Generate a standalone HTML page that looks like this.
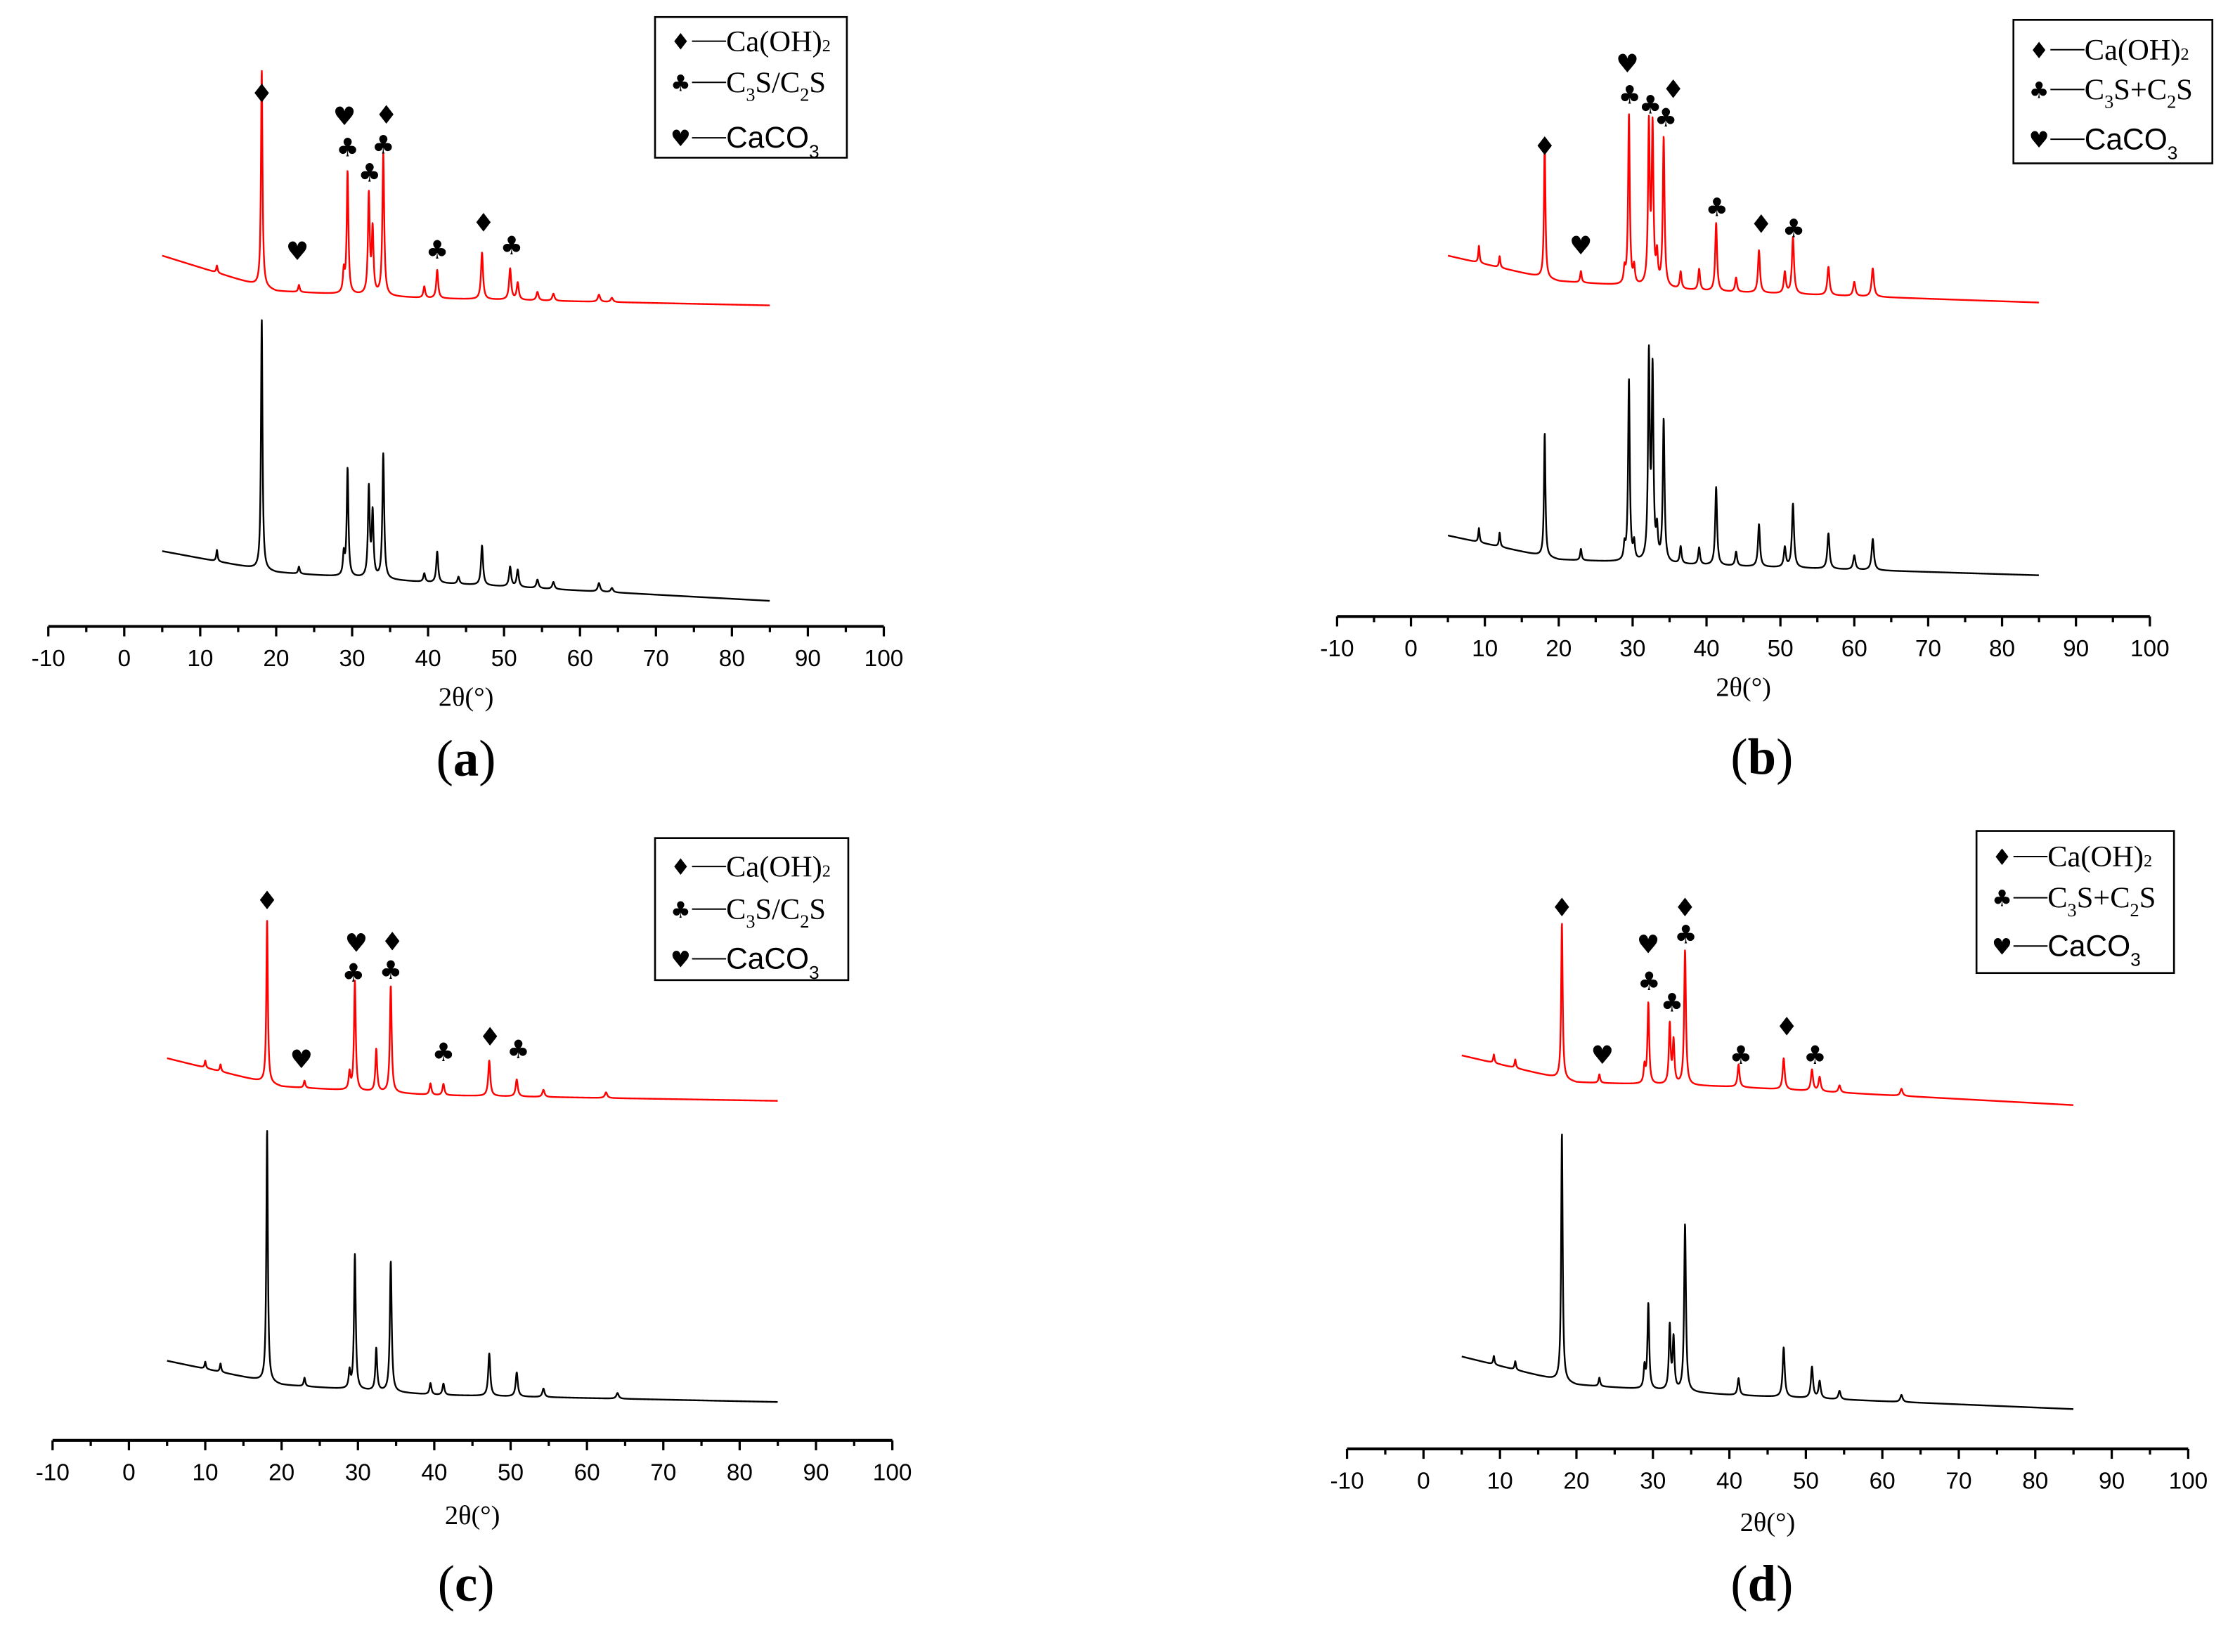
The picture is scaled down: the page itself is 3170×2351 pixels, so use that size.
<!DOCTYPE html>
<html><head><meta charset="utf-8"><style>
html,body{margin:0;padding:0;background:#fff;}
svg{display:block;}
</style></head><body>
<svg id="fig" width="3170" height="2351" viewBox="0 0 1568 1163" preserveAspectRatio="none" xmlns="http://www.w3.org/2000/svg"></svg>
<script>
// ---- data (angles in degrees 2θ, intensities in relative units) ----
const panelIds = ['a','b','c','d'];
const baseAngles = [5, 20, 40, 85];
const redBaseA = [261, 236, 231, 226];
const blackBaseA = [53, 38, 31, 18];
const redBaseB = [254, 236, 229, 221];
const blackBaseB = [57, 40, 36, 29];
const redBaseC = [269, 249, 243, 239];
const blackBaseC = [56, 39, 32, 27];
const redBaseD = [277, 258, 255, 242];
const blackBaseD = [65, 45, 38, 28];
const redPosA = [12.2, 18.1, 23, 28.9, 29.4, 32.2, 32.7, 34.1, 39.5, 41.2, 47.1, 50.8, 51.8, 54.4, 56.5, 62.5, 64.2];
const redHtA  = [5, 153, 5, 15, 86, 70, 45, 100, 8, 20, 33, 22, 12, 6, 5, 5, 3];
const blackPosA = [12.2, 18.1, 23, 28.9, 29.4, 32.2, 32.7, 34.1, 39.5, 41.2, 44, 47.1, 50.8, 51.8, 54.4, 56.5, 62.5, 64.2];
const blackHtA  = [8, 177, 5, 15, 76, 63, 45, 88, 6, 22, 5, 28, 14, 12, 6, 5, 6, 3];
const redPosB = [9.2, 12, 18.1, 23, 28.9, 29.5, 30.2, 32.2, 32.7, 33.3, 34.2, 36.5, 39, 41.3, 44, 47.1, 50.6, 51.7, 56.5, 60, 62.5];
const redHtB  = [12, 8, 96, 8, 10, 120, 12, 112, 110, 20, 105, 12, 15, 48, 10, 30, 15, 40, 20, 10, 20];
const blackPosB = [9.2, 12, 18.1, 23, 28.9, 29.5, 30.2, 32.2, 32.7, 33.3, 34.2, 36.5, 39, 41.3, 44, 47.1, 50.6, 51.7, 56.5, 60, 62.5];
const blackHtB  = [10, 10, 87, 8, 10, 128, 12, 143, 132, 20, 100, 12, 12, 55, 10, 30, 14, 45, 25, 10, 22];
const redPosC = [10, 12, 18.1, 23, 28.9, 29.6, 32.4, 34.3, 39.5, 41.2, 47.2, 50.8, 54.3, 62.5];
const redHtC  = [5, 5, 115, 5, 12, 77, 30, 75, 8, 8, 25, 12, 5, 4];
const blackPosC = [10, 12, 18.1, 23, 28.9, 29.6, 32.4, 34.3, 39.5, 41.2, 47.2, 50.8, 54.3, 64];
const blackHtC  = [5, 6, 178, 6, 12, 95, 30, 92, 8, 8, 30, 17, 6, 4];
const redPosD = [9.2, 12, 18.1, 23, 28.9, 29.4, 32.2, 32.7, 34.2, 41.2, 47.1, 50.8, 51.8, 54.4, 62.5];
const redHtD  = [6, 6, 110, 6, 12, 57, 42, 30, 95, 16, 22, 15, 10, 5, 5];
const blackPosD = [9.2, 12, 18.1, 23, 28.9, 29.4, 32.2, 32.7, 34.2, 41.2, 47.1, 50.8, 51.8, 54.4, 62.5];
const blackHtD  = [6, 6, 175, 6, 15, 60, 45, 36, 118, 12, 35, 22, 12, 6, 5];
const markAngA = [18.1, 22.8, 29.0, 29.4, 34.5, 34.1, 32.3, 41.2, 47.3, 51.0];
const markSymA = ['♦','♥','♥','♣','♦','♣','♣','♣','♦','♣'];
const markValA = [376, 265, 360, 338, 361, 340, 320, 266, 285, 269];
const markAngB = [18.1, 23.0, 29.3, 29.6, 32.4, 35.5, 34.5, 41.4, 47.4, 51.8];
const markSymB = ['♦','♥','♥','♣','♣','♦','♣','♣','♦','♣'];
const markValB = [332, 262, 390, 368, 361, 372, 352, 289, 277, 274];
const markAngC = [18.1, 22.6, 29.8, 29.4, 34.5, 34.3, 41.2, 47.3, 51.0];
const markSymC = ['♦','♥','♥','♣','♦','♣','♣','♦','♣'];
const markValC = [381, 269, 351, 330, 352, 332, 274, 285, 276];
const markAngD = [18.1, 23.4, 29.4, 29.5, 34.2, 34.3, 32.5, 41.5, 47.5, 51.2];
const markSymD = ['♦','♥','♥','♣','♦','♣','♣','♣','♦','♣'];
const markValD = [382, 278, 356, 330, 382, 363, 315, 278, 298, 278];
const xTicks = [-10, 0, 10, 20, 30, 40, 50, 60, 70, 80, 90, 100];

const panels = [
 {id:'a', x0:34, x1:622, ay:441, labY:497, capY:546, capX:328, leg:[461,12,135,99], legRows:[29,58,97], sep:'/',
  rb:redBaseA, bb:blackBaseA, rp:redPosA, rh:redHtA, bp:blackPosA, bh:blackHtA, ma:markAngA, ms:markSymA, mv:markValA},
 {id:'b', x0:941, x1:1513, ay:434, labY:490, capY:545, capX:1240, leg:[1417,14,140,101], legRows:[35,63,98], sep:'+',
  rb:redBaseB, bb:blackBaseB, rp:redPosB, rh:redHtB, bp:blackPosB, bh:blackHtB, ma:markAngB, ms:markSymB, mv:markValB},
 {id:'c', x0:37, x1:628, ay:1014, labY:1073, capY:1127, capX:328, leg:[461,590,136,100], legRows:[610,640,675], sep:'/',
  rb:redBaseC, bb:blackBaseC, rp:redPosC, rh:redHtC, bp:blackPosC, bh:blackHtC, ma:markAngC, ms:markSymC, mv:markValC},
 {id:'d', x0:948, x1:1540, ay:1020, labY:1078, capY:1127, capX:1240, leg:[1391,585,139,100], legRows:[603,632,666], sep:'+',
  rb:redBaseD, bb:blackBaseD, rp:redPosD, rh:redHtD, bp:blackPosD, bh:blackHtD, ma:markAngD, ms:markSymD, mv:markValD}
];
const NS='http://www.w3.org/2000/svg';
const svg=document.getElementById('fig');
function mk(tag, attrs, parent){const e=document.createElementNS(NS,tag);for(const k in attrs)e.setAttribute(k,attrs[k]);(parent||svg).appendChild(e);return e;}
function interp(xs, ys, x){
  if(x<=xs[0])return ys[0];
  for(let i=1;i<xs.length;i++){if(x<=xs[i]){const t=(x-xs[i-1])/(xs[i]-xs[i-1]);return ys[i-1]+t*(ys[i]-ys[i-1]);}}
  return ys[ys.length-1];
}
function spectrum(base, pos, ht, a){
  let v=interp(baseAngles, base, a);
  for(let i=0;i<pos.length;i++){const w=0.09+pos[i]*0.0015;const d=(a-pos[i])/w;v+=ht[i]/(1+d*d);}
  return v;
}
panels.forEach(p=>{
  const sx=a=>p.x0+(a+10)*(p.x1-p.x0)/110;
  const sy=v=>p.ay-v;
  const g=mk('g',{});
  
  
  const ax=mk('line',{x1:p.x0,y1:p.ay,x2:p.x1,y2:p.ay,stroke:'#000','stroke-width':2},g);
  
  
  for(let t=-10;t<=100;t+=5){
    const tk=mk('line',{x1:sx(t),y1:p.ay,x2:sx(t),y2:p.ay+(t%10===0?7:4),stroke:'#000','stroke-width':1.6},g);
    
    
  }
  xTicks.forEach(t=>{
    const tl=mk('text',{x:sx(t),y:p.ay+28,'text-anchor':'middle','font-family':'Liberation Sans, sans-serif','font-size':16.5},g);
    tl.textContent=String(t);
    
    
  });
  const xl=mk('text',{x:sx(45),y:p.labY,'text-anchor':'middle','font-family':'Liberation Serif, serif','font-size':19},g);
  xl.textContent='2θ(°)';
  
  
  const cap=mk('text',{x:p.capX,y:p.capY,'text-anchor':'middle','font-family':'Liberation Serif, serif','font-size':36},g);
  cap.innerHTML='(<tspan font-weight="bold">'+p.id+'</tspan>)';
  
  
  [['red',p.rb,p.rp,p.rh],['#000',p.bb,p.bp,p.bh]].forEach(s=>{
    let d='';
    for(let a=5;a<=85.001;a+=0.03){d+=(d?'L':'M')+sx(a).toFixed(2)+','+sy(spectrum(s[1],s[2],s[3],a)).toFixed(2);}
    const path=mk('path',{d:d,fill:'none',stroke:s[0],'stroke-width':1.2,'stroke-linejoin':'round'},g);
    
    
  });
  p.ma.forEach((a,i)=>{
    const m=mk('text',{x:sx(a),y:sy(p.mv[i])+7,'text-anchor':'middle','font-family':'DejaVu Sans, sans-serif','font-size':p.ms[i]==='♦'?18:18},g);
    m.textContent=p.ms[i];
    
    
  });
  const [lx,ly,lw,lh]=p.leg;
  const lg=mk('g',{},g);
  
  
  mk('rect',{x:lx,y:ly,width:lw,height:lh,fill:'#fff',stroke:'#000','stroke-width':1.3},lg);
  const rows=[
    ['♦','<tspan font-family="Liberation Serif, serif">Ca(OH)</tspan><tspan font-family="Liberation Serif, serif" font-size="12">2</tspan>'],
    ['♣','<tspan font-family="Liberation Serif, serif">C</tspan><tspan font-size="13" dy="6">3</tspan><tspan dy="-6">S'+p.sep+'C</tspan><tspan font-size="13" dy="6">2</tspan><tspan dy="-6">S</tspan>'],
    ['♥','<tspan font-family="Liberation Sans, sans-serif">CaCO</tspan><tspan font-family="Liberation Sans, sans-serif" font-size="13" dy="7">3</tspan>']
  ];
  rows.forEach((r,i)=>{
    const yy=p.legRows[i];
    const e=mk('g',{},lg);
    
    
    const sym=mk('text',{x:lx+18,y:yy+6,'text-anchor':'middle','font-family':'DejaVu Sans, sans-serif','font-size':16},e);
    sym.textContent=r[0];
    mk('line',{x1:lx+26,y1:yy,x2:lx+50,y2:yy,stroke:'#000','stroke-width':1},e);
    const t=mk('text',{x:lx+50,y:yy+7,'font-family':'Liberation Serif, serif','font-size':21},e);
    t.innerHTML=r[1];
  });
});
</script>
</body></html>
